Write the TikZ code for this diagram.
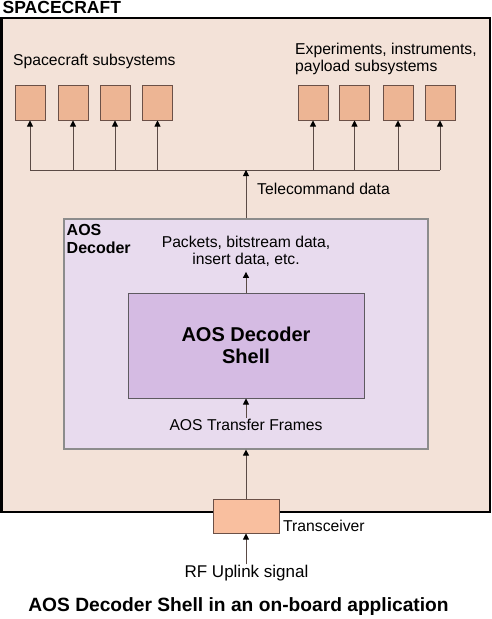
\documentclass[tikz,border=0pt]{standalone}
\usepackage{fontspec}
\setmainfont{Liberation Sans}
\usetikzlibrary{arrows.meta}
\definecolor{craftfill}{HTML}{F3E2D8}
\definecolor{subfill}{HTML}{EDB594}
\definecolor{subdraw}{HTML}{6B5047}
\definecolor{trxfill}{HTML}{F9BF9F}
\definecolor{decfill}{HTML}{E8DBEE}
\definecolor{decdraw}{HTML}{8C8C8C}
\definecolor{shellfill}{HTML}{D5BBE3}
\definecolor{shelldraw}{HTML}{5E5A60}
\definecolor{wire}{HTML}{5A4A45}
\newcommand{\txt}{\fontsize{15.7}{17}\selectfont}

\begin{document}
\begin{tikzpicture}[x=1pt, y=-1pt,
    sub/.style={draw=subdraw, fill=subfill, line width=1pt, minimum width=30pt, minimum height=35pt, inner sep=0pt},
    lbl/.style={font=\txt, inner sep=1pt},
    arr/.style={draw=wire, line width=0.9pt, -{Triangle[width=6pt,length=6pt,black]}}]
\useasboundingbox (0,0) rectangle (492,619);

% Spacecraft
\node[anchor=west, font=\fontsize{17.5}{19}\selectfont\bfseries, inner sep=0pt] (title) at (2.5,7) {SPACECRAFT};
\node[draw, fill=craftfill, line width=2.6pt, minimum width=488.5pt, minimum height=494pt, inner sep=0pt] (craft) at (245.75,265) {};

% Subsystems
\foreach \i/\x in {1/30, 2/73, 3/115, 4/157.5, 5/313, 6/354.5, 7/398, 8/440}
    \node[sub] (s\i) at (\x,102.5) {};
\node[lbl, anchor=west] (left) at (12,61) {Spacecraft subsystems};
\node[lbl, anchor=north west, align=left] (right) at (294,42) {Experiments, instruments,\\payload subsystems};

% Telecommand bus
\coordinate (bus) at (246,170);
\draw[wire, line width=0.9pt] (s1.south |- bus) -- (s8.south |- bus);
\foreach \i in {1,...,8}
    \draw[arr] (s\i.south |- bus) -- (s\i.south);
\node[lbl, anchor=west] (tc) at (256,189) {Telecommand data};

% AOS Decoder
\node[draw=decdraw, fill=decfill, line width=1.2pt, minimum width=364pt, minimum height=230pt, inner sep=0pt] (dec) at (246,334) {};
\node[anchor=north west, align=left, inner sep=0pt, font=\fontsize{16}{18}\selectfont\bfseries] (declbl) at (66.5,224) {AOS\\Decoder};
\draw[arr] (dec.north) -- (bus);
\node[lbl, align=center] (pk) at (246,251.5) {Packets, bitstream data,\\insert data, etc.};

% Shell
\node[draw=shelldraw, fill=shellfill, line width=1pt, minimum width=236pt, minimum height=105pt, align=center, font=\fontsize{20}{22}\selectfont\bfseries] (shell) at (246,345.5) {AOS Decoder\\Shell};
\draw[arr, shorten >=4pt] (shell.north) -- (pk.south);
\node[lbl] (frames) at (246,425) {AOS Transfer Frames};
\draw[arr] (frames.north) -- (shell.south);

% Transceiver
\node[draw=subdraw, fill=trxfill, line width=1pt, minimum width=66pt, minimum height=34pt, inner sep=0pt] (trx) at (246,516) {};
\node[lbl, anchor=west] (trxlbl) at (282,526) {Transceiver};
\draw[arr] (trx.north) -- (dec.south);
\node[font=\fontsize{17}{19}\selectfont, inner sep=1pt] (rf) at (246.5,573.5) {RF Uplink signal};
\draw[arr] (rf.north -| trx) -- (trx.south);

% Caption
\node[font=\fontsize{19.2}{21}\selectfont\bfseries] (cap) at (238.5,606.5) {AOS Decoder Shell in an on-board application};
\end{tikzpicture}
\end{document}
